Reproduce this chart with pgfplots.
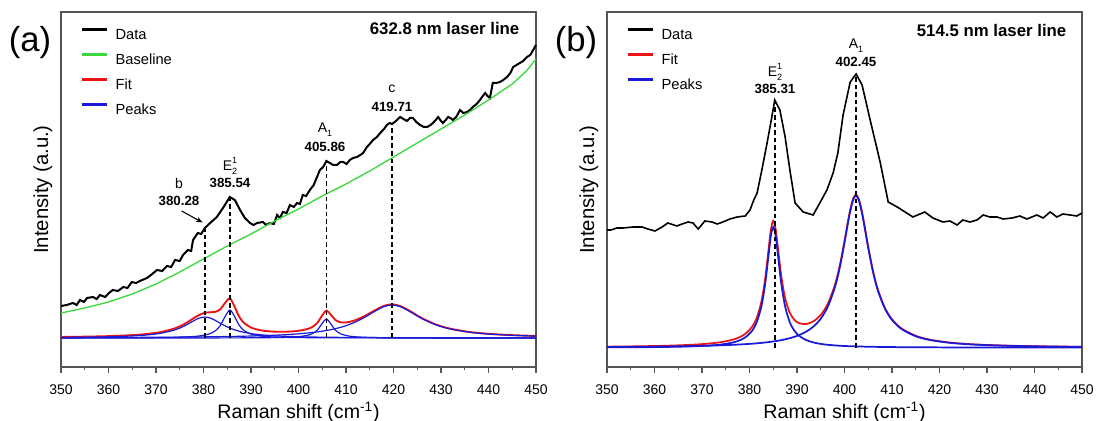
\documentclass[border=0pt]{standalone}
\usepackage{fontspec}
\setmainfont{Liberation Sans}
\usepackage{pgfplots}
\pgfplotsset{compat=1.18}
\usepackage{pgfplotstable}
\usetikzlibrary{arrows.meta}

\definecolor{basegreen}{RGB}{60,215,60}
\definecolor{fitred}{RGB}{235,20,20}
\definecolor{peakblue}{RGB}{25,25,215}
\definecolor{framegray}{RGB}{85,85,85}

% ---------- 632.8 nm excitation ----------
\pgfplotstableread{
x y
350 61
351.2 62
352.5 64
353.3 62
354.0 67
354.8 65
355.5 69
356.7 70
357.5 68
358.2 72
359.3 70
360.1 74
360.9 77
362.0 76
363.1 80
364.0 79
364.9 85
365.8 84
366.6 86
368.1 89
369.2 93
370.2 97
371.3 96
372.3 101
373.2 100
374.0 107
375.0 106
375.7 112
376.7 117
377.4 116
377.8 127
378.8 134
379.5 133
380.28 139
381.4 144
382.8 150
384.1 159
385.54 170
386.6 167
387.7 157
388.7 149
389.8 144
390.5 142
391.3 144
392.5 145
393.2 142
394.0 144
394.8 143
395.5 152
396.1 149
396.7 155
397.5 154
398.2 162
399.0 160
399.7 164
400.3 163
400.9 172
401.6 171
402.4 177
403.2 182
403.9 190
404.5 197
405.2 200
405.86 206
406.6 204
407.3 202
408.1 202
408.8 205
409.4 205
410.1 203
410.8 207
411.5 209
412.3 210
413.0 212
413.6 214
414.4 220
415.0 223
415.7 227
416.5 230
417.2 234
418.0 238
418.6 242
419.2 244
419.71 243
420.5 246
421.4 250
422.1 248
422.8 246
423.5 249
424.1 249
424.8 245
425.6 242
426.4 240
427.1 240
427.8 242
428.3 244
428.9 247
429.4 250
430.0 246
430.4 244
431.0 247
431.5 250
432.0 249
432.5 247
433.2 250
434.0 257
434.7 254
435.5 255
436.1 257
436.7 260
437.5 263
438.2 267
438.8 271
439.3 274
439.8 271
440.3 269
440.9 284
441.6 284
442.4 285
443.1 287
443.9 290
444.6 294
445.2 300
445.9 302
446.6 304
447.3 306
448.1 310
448.8 312
449.4 317
450 322
}\redData

\pgfplotstableread{
x y
350 54
355 59
360 65
365 73
370 83
375 95
380 108
385 121
390 133
395 146
400 158
405 171
410 183
415 196
420 210
425 224
430 238
435 252
440 267
445 283
448 296
450 308
}\redBase

\pgfplotstableread{
x b e a c fit
350 29.56 29.07 29.02 29.38 30.02
355 29.79 29.10 29.02 29.44 30.35
360 30.20 29.14 29.02 29.51 30.88
365 31.03 29.21 29.03 29.61 31.88
368 31.99 29.29 29.03 29.68 32.99
371 33.72 29.42 29.04 29.76 34.95
374 37.15 29.67 29.05 29.87 38.72
376 41.12 29.96 29.05 29.94 43.08
378 46.38 30.51 29.06 30.03 48.99
379 48.71 30.97 29.07 30.08 51.83
380.28 50.00 31.94 29.07 30.15 54.16
381.5 48.82 33.64 29.08 30.22 54.77
382.5 46.54 36.27 29.09 30.29 55.19
383.5 43.84 41.25 29.10 30.36 57.54
384.5 41.27 49.99 29.11 30.43 63.80
385.54 38.97 57.00 29.12 30.52 68.60
386.5 37.24 50.80 29.13 30.60 60.77
387.5 35.81 41.81 29.14 30.70 50.46
388.5 34.67 36.56 29.16 30.80 44.19
390 33.39 32.92 29.19 30.98 39.48
392 32.23 31.02 29.25 31.25 36.75
394 31.46 30.21 29.34 31.59 35.60
396 30.93 29.81 29.49 32.00 35.22
398 30.55 29.57 29.76 32.52 35.40
400 30.27 29.43 30.32 33.17 36.19
402 30.06 29.33 31.79 34.02 38.19
403 29.97 29.29 33.53 34.53 40.33
404 29.89 29.26 37.08 35.13 44.37
405 29.83 29.24 43.74 35.81 51.61
405.86 29.77 29.22 48.00 36.48 56.47
406.8 29.72 29.20 43.13 37.33 52.38
407.8 29.67 29.18 36.69 38.37 46.92
409 29.62 29.16 32.92 39.86 44.56
410.5 29.56 29.15 31.02 42.16 44.88
412 29.51 29.13 30.21 45.04 46.89
414 29.45 29.11 29.71 49.89 51.16
416 29.40 29.10 29.46 55.51 56.47
418 29.36 29.09 29.32 60.37 61.14
419.71 29.33 29.08 29.25 62.00 62.66
421.5 29.31 29.07 29.20 60.22 60.79
423.5 29.28 29.06 29.16 55.29 55.79
426 29.25 29.06 29.12 48.37 48.79
429 29.22 29.05 29.09 42.02 42.38
432 29.19 29.04 29.07 37.96 38.26
436 29.17 29.04 29.05 34.77 35.03
440 29.15 29.03 29.04 32.97 33.19
445 29.13 29.03 29.03 31.67 31.85
450 29.11 29.02 29.03 30.91 31.06
}\redFit

% ---------- 514.5 nm excitation ----------
\pgfplotstableread{
x y
350 137
350.8 137
352.1 139
353.4 139
355.5 140
357.4 140
358.6 138
360.1 136
361.6 140
362.8 144
364.7 141
365.8 143
367.1 145
368.1 144
369.2 138
370.6 146
372.1 145
373.2 143
374.4 145
375.9 148
377.4 150
379.1 151
380.1 157
380.9 167
381.6 174
382.6 197
383.7 224
384.7 250
385.31 267
386.4 257
387.5 230
388.5 197
389.6 164
391.3 155
393.4 152
394.8 164
396.3 177
397.6 194
398.6 214
399.7 252
401.2 285
402.45 293
403.7 282
405.4 247
407.5 205
409.2 165
411.1 160
414.4 150
416.9 155
418.6 149
420.7 145
422.2 146
423.7 142
424.9 147
426.4 145
427.9 147
429.2 152
430.6 150
432.1 150
433.4 148
435.3 149
436.9 151
438.4 148
440.5 152
441.8 149
443.3 155
444.7 150
446.0 153
447.5 152
448.9 151
450 154
}\greenData

\pgfplotstableread{
x e a fit
350 19.62 20.01 20.33
355 19.73 20.17 20.60
360 19.92 20.39 21.01
365 20.27 20.69 21.66
370 21.01 21.15 22.86
374 22.45 21.70 24.85
377 25.12 22.29 28.10
379 29.27 22.81 32.77
380.5 35.95 23.29 39.94
381.5 44.55 23.67 48.92
382.5 60.51 24.11 65.32
383.3 83.09 24.50 88.29
384 111.54 24.89 117.13
384.5 131.35 25.20 137.25
385 140.00 25.53 146.23
385.5 131.35 25.88 137.93
386 111.54 26.28 118.52
386.7 83.09 26.88 90.67
387.5 60.51 27.67 68.88
388.5 44.55 28.84 54.09
389.5 35.95 30.26 46.91
390.5 30.98 32.02 43.70
392 26.79 35.53 43.02
393.5 24.48 40.63 45.81
395 23.09 48.33 52.12
396.5 22.19 60.46 63.35
398 21.57 80.13 82.40
399 21.26 99.48 101.44
400 21.01 124.30 126.01
401 20.81 151.10 152.61
401.8 20.67 166.90 168.27
402.4 20.58 171.00 172.28
403 20.50 166.90 168.10
403.8 20.40 151.10 152.20
405 20.27 119.00 119.97
406 20.18 95.15 96.03
407 20.10 76.91 77.71
408.5 20.00 58.49 59.19
410 19.92 47.10 47.72
412 19.83 38.00 38.53
415 19.73 30.75 31.18
418 19.66 26.97 27.33
422 19.59 24.25 24.54
426 19.53 22.75 22.98
430 19.49 21.84 22.03
435 19.46 21.13 21.28
440 19.43 20.68 20.81
445 19.41 20.38 20.48
450 19.39 20.16 20.26
}\greenFit

\newcommand{\smallidx}[1]{{\fontsize{6.8}{7}\selectfont #1}}
\newcommand{\Etwo}{E\makebox[0pt][l]{\raisebox{0.52em}{\smallidx{1}}}\raisebox{-0.28em}{\smallidx{2}}}
\newcommand{\Aone}{A\raisebox{-0.28em}{\smallidx{1}}}

\tikzset{
  numlabel/.style={font=\bfseries\fontsize{10}{12}\selectfont},
  symlabel/.style={font=\fontsize{10.5}{12}\selectfont},
}

\pgfplotsset{
  ramanaxis/.style={
    scale only axis, width=356.25pt, height=266.25pt,
    xmin=350, xmax=450, ymin=0, ymax=355,
    clip=false,
    axis line style={draw=framegray, line width=1pt},
    xtick={350,360,...,450}, minor x tick num=1,
    xtick pos=bottom, ytick=\empty,
    tick align=outside,
    major tick length=4.5pt, minor tick length=2.5pt,
    every tick/.style={draw=framegray, line width=0.9pt},
    /pgf/number format/assume math mode=true,
    xticklabel style={font=\fontsize{10.5}{12}\selectfont,
      inner sep=0pt, text height=7.5pt, text depth=0pt, yshift=-8.2pt},
    xlabel={Raman shift (cm\textsuperscript{-1})},
    ylabel={Intensity (a.u.)},
    xlabel style={font=\fontsize{14.7}{18}\selectfont,
      at={(axis description cs:0.5,-0.127)}, anchor=center},
    ylabel style={font=\fontsize{15.2}{18}\selectfont,
      at={(axis description cs:-0.0379,0.5)}, anchor=center},
    legend cell align=left,
    legend style={draw=none, fill=none, at={(rel axis cs:0,1)},
      anchor=north west, xshift=15pt, yshift=-11.8pt,
      font=\fontsize{11}{13}\selectfont, inner sep=0pt, outer sep=0pt,
      row sep=9.8pt,
      nodes={inner xsep=5pt, inner ysep=0pt, text height=7.9pt, text depth=0pt}},
    legend image code/.code={\draw[#1, line width=2.2pt] (0pt,3.9pt) -- (18.75pt,3.9pt);},
  },
  dataline/.style={black, line width=1.5pt},
  dropline/.style={black, line width=1.2pt, dash pattern=on 3.5pt off 2.2pt, forget plot},
}

\begin{document}
\begin{tikzpicture}
\useasboundingbox (0,0) rectangle (822pt,315.75pt);

% ----- (a) 632.8 nm -----
\begin{axis}[ramanaxis, at={(45.75pt,40.5pt)}, anchor=south west]
\addplot[dataline] table[x=x, y=y] {\redData};
\addlegendentry{Data}
\addplot[basegreen, line width=1pt] table[x=x, y=y] {\redBase};
\addlegendentry{Baseline}
\addplot[fitred, line width=1.4pt, smooth] table[x=x, y=fit] {\redFit};
\addlegendentry{Fit}
\addplot[peakblue, line width=0.9pt, smooth] table[x=x, y=b] {\redFit};
\addlegendentry{Peaks}
\addplot[peakblue, line width=0.9pt, smooth, forget plot] table[x=x, y=e] {\redFit};
\addplot[peakblue, line width=0.9pt, smooth, forget plot] table[x=x, y=a] {\redFit};
\addplot[peakblue, line width=0.9pt, smooth, forget plot] table[x=x, y=c] {\redFit};

\addplot[dropline] coordinates {(380.28,29) (380.28,139)};
\addplot[dropline] coordinates {(385.54,29) (385.54,170)};
\addplot[dropline] coordinates {(405.86,29) (405.86,206)};
\addplot[dropline] coordinates {(419.71,29) (419.71,243)};

\node[symlabel] at (axis cs:374.84,184) {b};
\node[numlabel] at (axis cs:374.84,166) {380.28};
\draw[-{Stealth[length=5pt,width=4pt]}, line width=0.8pt] (axis cs:375.4,156) -- (axis cs:379.8,144.5);
\node[symlabel] at (axis cs:385.58,201) {\Etwo};
\node[numlabel] at (axis cs:385.58,184) {385.54};
\node[symlabel] at (axis cs:405.58,237) {\Aone};
\node[numlabel] at (axis cs:405.58,220) {405.86};
\node[symlabel] at (axis cs:419.68,278) {c};
\node[numlabel] at (axis cs:419.68,260) {419.71};

\node[anchor=east, font=\bfseries\fontsize{12.6}{15}\selectfont]
  at (rel axis cs:1,1) [xshift=-9pt, yshift=-12.75pt] {632.8 nm laser line};
\end{axis}

% ----- (b) 514.5 nm -----
\begin{axis}[ramanaxis, at={(455.25pt,40.5pt)}, anchor=south west]
\addplot[black, line width=1.2pt] table[x=x, y=y] {\greenData};
\addlegendentry{Data}
\addplot[fitred, line width=1.3pt, smooth] table[x=x, y=fit] {\greenFit};
\addlegendentry{Fit}
\addplot[peakblue, line width=1.3pt, smooth] table[x=x, y=e] {\greenFit};
\addlegendentry{Peaks}
\addplot[peakblue, line width=1.3pt, smooth, forget plot] table[x=x, y=a] {\greenFit};

\addplot[dropline] coordinates {(385.31,19.3) (385.31,267)};
\addplot[dropline] coordinates {(402.45,19.3) (402.45,293)};

\node[symlabel] at (axis cs:385.37,295) {\Etwo};
\node[numlabel] at (axis cs:385.37,278) {385.31};
\node[symlabel] at (axis cs:402.42,321) {\Aone};
\node[numlabel] at (axis cs:402.42,305) {402.45};

\node[anchor=east, font=\bfseries\fontsize{12.6}{15}\selectfont]
  at (rel axis cs:1,1) [xshift=-8.25pt, yshift=-14.25pt] {514.5 nm laser line};
\end{axis}

\node[font=\fontsize{26}{30}\selectfont] at (22.5pt,283.5pt) {(a)};
\node[font=\fontsize{26}{30}\selectfont] at (432pt,283.5pt) {(b)};
\end{tikzpicture}
\end{document}
